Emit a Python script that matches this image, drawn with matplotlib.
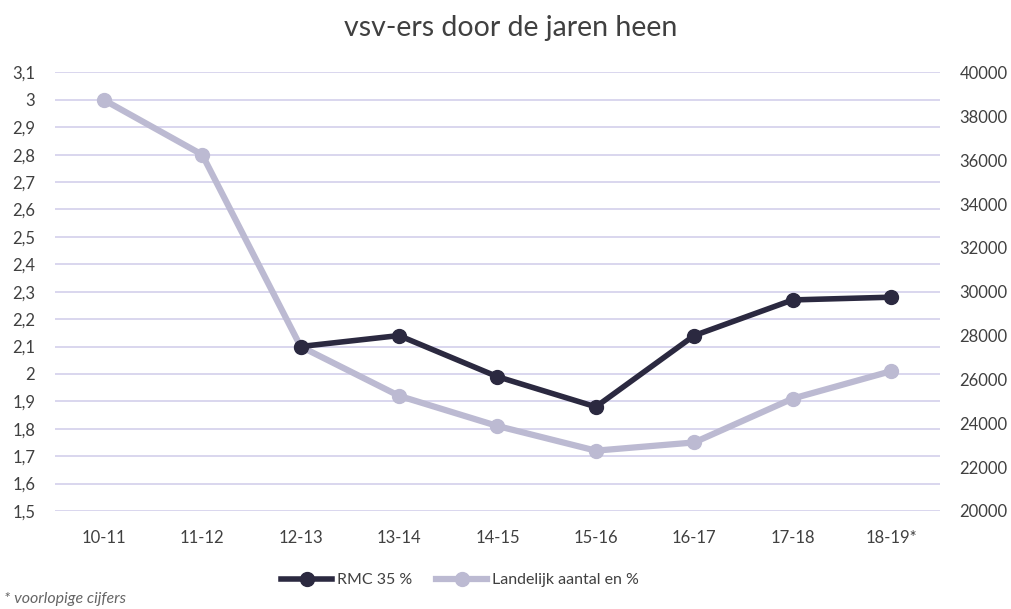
import matplotlib
matplotlib.use("Agg")
import matplotlib.pyplot as plt
import numpy as np

plt.rcParams['font.family'] = ['Lato', 'DejaVu Sans']

categories = ["10-11", "11-12", "12-13", "13-14", "14-15", "15-16", "16-17", "17-18", "18-19*"]
rmc = [np.nan, np.nan, 2.10, 2.14, 1.99, 1.88, 2.14, 2.27, 2.28]
landelijk = [3.00, 2.80, 2.10, 1.92, 1.81, 1.72, 1.75, 1.91, 2.01]
left_ticks = [1.5, 1.6, 1.7, 1.8, 1.9, 2.0, 2.1, 2.2, 2.3, 2.4, 2.5, 2.6, 2.7, 2.8, 2.9, 3.0, 3.1]
left_labels = ["1,5", "1,6", "1,7", "1,8", "1,9", "2", "2,1", "2,2", "2,3", "2,4", "2,5", "2,6", "2,7", "2,8", "2,9", "3", "3,1"]
right_ticks = [20000, 22000, 24000, 26000, 28000, 30000, 32000, 34000, 36000, 38000, 40000]

dark = "#2b2940"
light = "#bcbad2"
grid = "#d9d6ee"
text = "#404040"

fig = plt.figure(figsize=(10.11, 6.09), dpi=100)
ax = fig.add_axes([0.054, 0.161, 0.876, 0.72])
x = np.arange(len(categories))

ax.plot(x, landelijk, color=light, lw=4.5, marker='o', ms=10, label="Landelijk aantal en %", zorder=3)
ax.plot(x, rmc, color=dark, lw=4, marker='o', ms=10, label="RMC 35 %", zorder=4)

ax.set_xlim(-0.5, len(categories) - 0.5)
ax.set_ylim(1.5, 3.1)
ax.set_yticks(left_ticks)
ax.set_yticklabels(left_labels)
ax.set_xticks(x)
ax.set_xticklabels(categories)
for t in left_ticks:
    ax.axhline(t, color=grid, lw=1.4, zorder=1)
for s in ax.spines.values():
    s.set_visible(False)
ax.tick_params(axis='both', length=0, labelsize=12, colors=text)
ax.tick_params(axis='y', pad=14)
ax.tick_params(axis='x', pad=14)

ax2 = ax.twinx()
ax2.set_ylim(20000, 40000)
ax2.set_yticks(right_ticks)
for s in ax2.spines.values():
    s.set_visible(False)
ax2.tick_params(axis='y', length=0, labelsize=12, colors=text, pad=14)

fig.suptitle("vsv-ers door de jaren heen", x=0.505, y=0.975, fontsize=20.5, color=text)

h, l = ax.get_legend_handles_labels()
fig.legend(h[::-1], l[::-1], loc='center', bbox_to_anchor=(0.455, 0.047), ncol=2, frameon=False,
           fontsize=11.5, handlelength=3.2, columnspacing=1.5, handletextpad=0.3, labelcolor=text)

fig.text(0.004, 0.01, "* voorlopige cijfers", fontsize=11.5, style='italic', color="#666666")

fig.savefig("out.png", dpi=100)
